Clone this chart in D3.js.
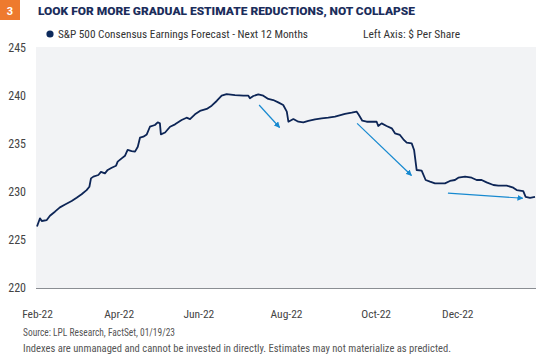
<!DOCTYPE html>
<html><head><meta charset="utf-8">
<script src="https://cdn.jsdelivr.net/npm/d3@7"></script>
<style>
body{margin:0;background:#fff;}
svg{display:block;}
</style></head>
<body><svg id="c" width="536" height="356"></svg>
<script>
// Trading-day index (0 = first observation) and consensus NTM EPS ($/share)
const dayIndex = [0,1.5,2.4,4.9,6.5,9,11.5,14.1,17.4,19.9,22.4,24.9,26.3,27.1,28.3,30.8,32.1,34.1,35.5,37.5,39.7,40.5,42.5,44.2,45.5,47.5,49.2,50.6,51.7,53.4,55.1,56.7,59.2,60.6,61.7,62.2,64.3,66.8,69.3,72.6,75.1,76.8,79.3,81.8,85.2,87.7,90.2,92.7,95.2,99.4,103.6,106.1,106.9,108.6,111.1,113.6,116.1,118.6,121.1,123.6,125.4,126.2,128.7,131.2,133.7,136.2,139.6,142.9,146.2,149.6,154.6,158,160.5,161.6,163.3,165.5,170.5,171.3,173,175.5,178.1,179.7,182.2,183.9,185.6,188.1,189.3,190.6,193.1,195.1,197.3,199.8,204.8,207.3,209.8,211.5,214.9,218.2,220.7,223.2,225.7,229.1,231.6,235.8,239.1,240.8,244.1,245.3,247.5,250];
const eps = [226.4,227.26,226.98,227.08,227.53,227.95,228.4,228.7,229.06,229.4,229.76,230.2,230.55,231.42,231.6,231.77,232.1,231.94,232.3,232.53,232.74,233.16,233.5,233.78,234.38,234.27,234.2,234.72,235.66,235.76,236.0,236.8,236.98,237.26,237.15,236.0,236.2,236.8,237.05,237.5,237.74,237.6,238.09,238.44,238.65,238.99,239.48,240.03,240.2,240.1,240.03,240.03,239.76,240.0,240.17,240.03,239.69,239.58,239.34,239.06,238.37,237.32,237.6,237.32,237.26,237.4,237.57,237.67,237.74,237.85,238.13,238.26,238.37,238.02,237.43,237.32,237.32,236.88,237.15,236.88,236.63,236.11,235.94,235.49,235.14,235.07,234.38,232.29,232.22,231.25,231.08,230.9,230.9,231.15,231.25,231.49,231.6,231.49,231.25,231.25,231.0,230.73,230.66,230.66,230.45,230.2,230.1,229.5,229.4,229.5];
const tickDays = [0,41,81,125,170,211];
const tickLabels = ["Feb-22","Apr-22","Jun-22","Aug-22","Oct-22","Dec-22"];
const yTicks = [220,225,230,235,240,245];
// annotation arrows: [startDay, startValue, endDay, endValue]
const arrows = [[111.5,239.06,121.8,236.72],[160.7,237.15,188.0,231.72],[206.3,229.88,243.9,229.35]];

const svg = d3.select("#c");
const W=536,H=356;
const x = d3.scaleLinear().domain([0,250]).range([37,535]);
const y = d3.scaleLinear().domain([220,245]).range([288,48]);

const navy="#0d2556";
// plot background
svg.append("rect").attr("x",36).attr("y",47).attr("width",W-36).attr("height",288-47).attr("fill","#f2f3f5");
// baseline
svg.append("line").attr("x1",36).attr("x2",W).attr("y1",y(220)+0.5).attr("y2",y(220)+0.5).attr("stroke","#8a8d92").attr("stroke-width",1.2);

// header badge
svg.append("rect").attr("x",0).attr("y",0).attr("width",20).attr("height",20).attr("fill","#ee7a2e");
svg.append("text").attr("x",10).attr("y",14.5).attr("text-anchor","middle").attr("fill","#fff")
  .attr("font-family","Roboto, sans-serif").attr("font-weight",700).attr("font-size",11).text("3");
svg.append("text").attr("x",38).attr("y",15).attr("fill","#1b2d5b")
  .attr("font-family","Roboto, sans-serif").attr("font-weight",900).attr("font-size",11.5)
  .attr("textLength",377).attr("lengthAdjust","spacingAndGlyphs")
  .text("LOOK FOR MORE GRADUAL ESTIMATE REDUCTIONS, NOT COLLAPSE");

// legend
svg.append("circle").attr("cx",50).attr("cy",34).attr("r",3.6).attr("fill","#0d2a5c");
const fnt="'Liberation Sans Narrow', 'Roboto Condensed', Roboto, sans-serif";
svg.append("text").attr("x",58).attr("y",37.5).attr("fill","#333").attr("font-family",fnt).attr("font-size",11)
  .attr("textLength",250).attr("lengthAdjust","spacingAndGlyphs")
  .text("S&P 500 Consensus Earnings Forecast - Next 12 Months");
svg.append("text").attr("x",363).attr("y",37.5).attr("fill","#333").attr("font-family",fnt).attr("font-size",11)
  .attr("textLength",97).attr("lengthAdjust","spacingAndGlyphs")
  .text("Left Axis: $ Per Share");

// y axis labels
const ya = svg.append("g").attr("transform","translate(26,0)")
  .call(d3.axisLeft(y).tickValues(yTicks).tickSize(0).tickPadding(0).tickFormat(d3.format("d")));
ya.select(".domain").remove();
ya.selectAll("text").attr("font-family",fnt).attr("font-size",12).attr("fill","#444");

// x axis labels
const xa = svg.append("g").attr("transform","translate(0,"+(y(220))+")")
  .call(d3.axisBottom(x).tickValues(tickDays).tickSize(0).tickPadding(22).tickFormat((d,i)=>tickLabels[i]));
xa.select(".domain").remove();
xa.selectAll("text").attr("font-family",fnt).attr("font-size",11.5).attr("fill","#444");

// line
const data = dayIndex.map((d,i)=>({d,v:eps[i]}));
svg.append("path").datum(data)
  .attr("d",d3.line().x(p=>x(p.d)).y(p=>y(p.v)))
  .attr("fill","none").attr("stroke",navy).attr("stroke-width",1.8).attr("stroke-linejoin","round");

// arrows
const blue="#1789d0";
svg.append("defs").append("marker").attr("id","ah").attr("viewBox","0 0 10 10").attr("refX",9).attr("refY",5)
  .attr("markerWidth",6).attr("markerHeight",6).attr("orient","auto").attr("markerUnits","userSpaceOnUse")
  .append("path").attr("d","M0,0L10,5L0,10z").attr("fill",blue);
svg.selectAll("line.arr").data(arrows).enter().append("line").attr("class","arr")
  .attr("x1",a=>x(a[0])).attr("y1",a=>y(a[1])).attr("x2",a=>x(a[2])).attr("y2",a=>y(a[3]))
  .attr("stroke",blue).attr("stroke-width",1.2).attr("marker-end","url(#ah)");

// footnotes
svg.append("text").attr("x",23).attr("y",336).attr("fill","#555").attr("font-family",fnt).attr("font-size",10.5)
  .attr("textLength",152).attr("lengthAdjust","spacingAndGlyphs")
  .text("Source: LPL Research, FactSet,  01/19/23");
svg.append("text").attr("x",23).attr("y",352).attr("fill","#555").attr("font-family",fnt).attr("font-size",10.5)
  .attr("textLength",428).attr("lengthAdjust","spacingAndGlyphs")
  .text("Indexes are unmanaged and cannot be invested in directly. Estimates may not materialize as predicted.");
</script></body></html>
